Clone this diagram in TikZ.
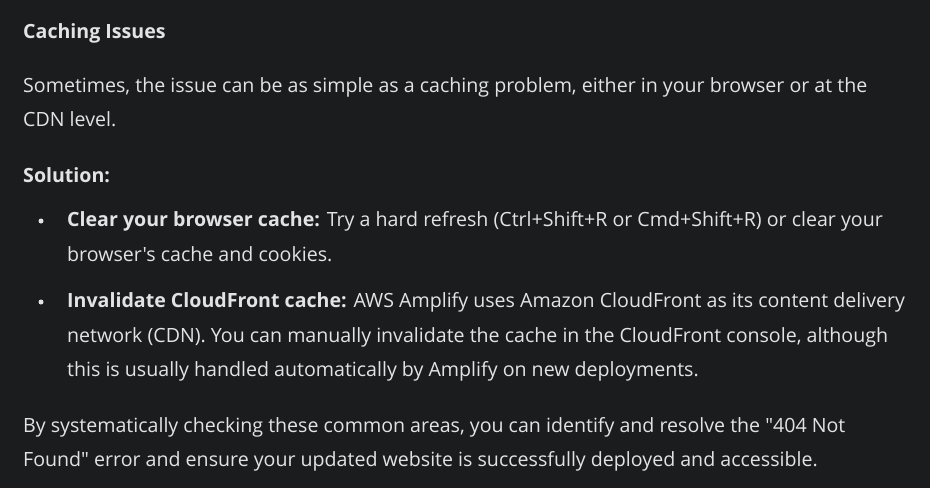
\documentclass[tikz,border=0pt]{standalone}
\usepackage{fontspec}
\setmainfont{Open Sans}[Ligatures=TeXOff]
\definecolor{bg}{HTML}{1B1C1D}
\definecolor{fg}{HTML}{E3E3E3}
\begin{document}
\begin{tikzpicture}[x=1pt,y=-1pt,
  txt/.style={anchor=base west,inner sep=0pt,text=fg,font=\fontsize{19.6}{22}\selectfont},
  bul/.style={circle,fill=fg,inner sep=0pt,minimum size=5pt}]
\fill[bg] (0,0) rectangle (930,488);
\useasboundingbox (0,0) rectangle (930,488);
\node[txt] (h) at (23,38) {\textbf{Caching Issues}};
\node[txt] (p1) at (23,92) {Sometimes, the issue can be as simple as a caching problem, either in your browser or at the};
\node[txt] (p2) at (23,126) {CDN level.};
\node[txt] (s) at (23,182) {\textbf{Solution:}};
\node[bul] (b1) at (41,221) {};
\node[txt] (l1) at (67,226) {\textbf{Clear your browser cache:} Try a hard refresh (Ctrl+Shift+R or Cmd+Shift+R) or clear your};
\node[txt] (l2) at (67,261) {browser's cache and cookies.};
\node[bul] (b2) at (41,302) {};
\node[txt] (m1) at (67,307) {\textbf{Invalidate CloudFront cache:} AWS Amplify uses Amazon CloudFront as its content delivery};
\node[txt] (m2) at (67,342) {network (CDN). You can manually invalidate the cache in the CloudFront console, although};
\node[txt] (m3) at (67,376) {this is usually handled automatically by Amplify on new deployments.};
\node[txt] (q1) at (23,432) {By systematically checking these common areas, you can identify and resolve the "404 Not};
\node[txt] (q2) at (23,466) {Found" error and ensure your updated website is successfully deployed and accessible.};
\end{tikzpicture}
\end{document}
